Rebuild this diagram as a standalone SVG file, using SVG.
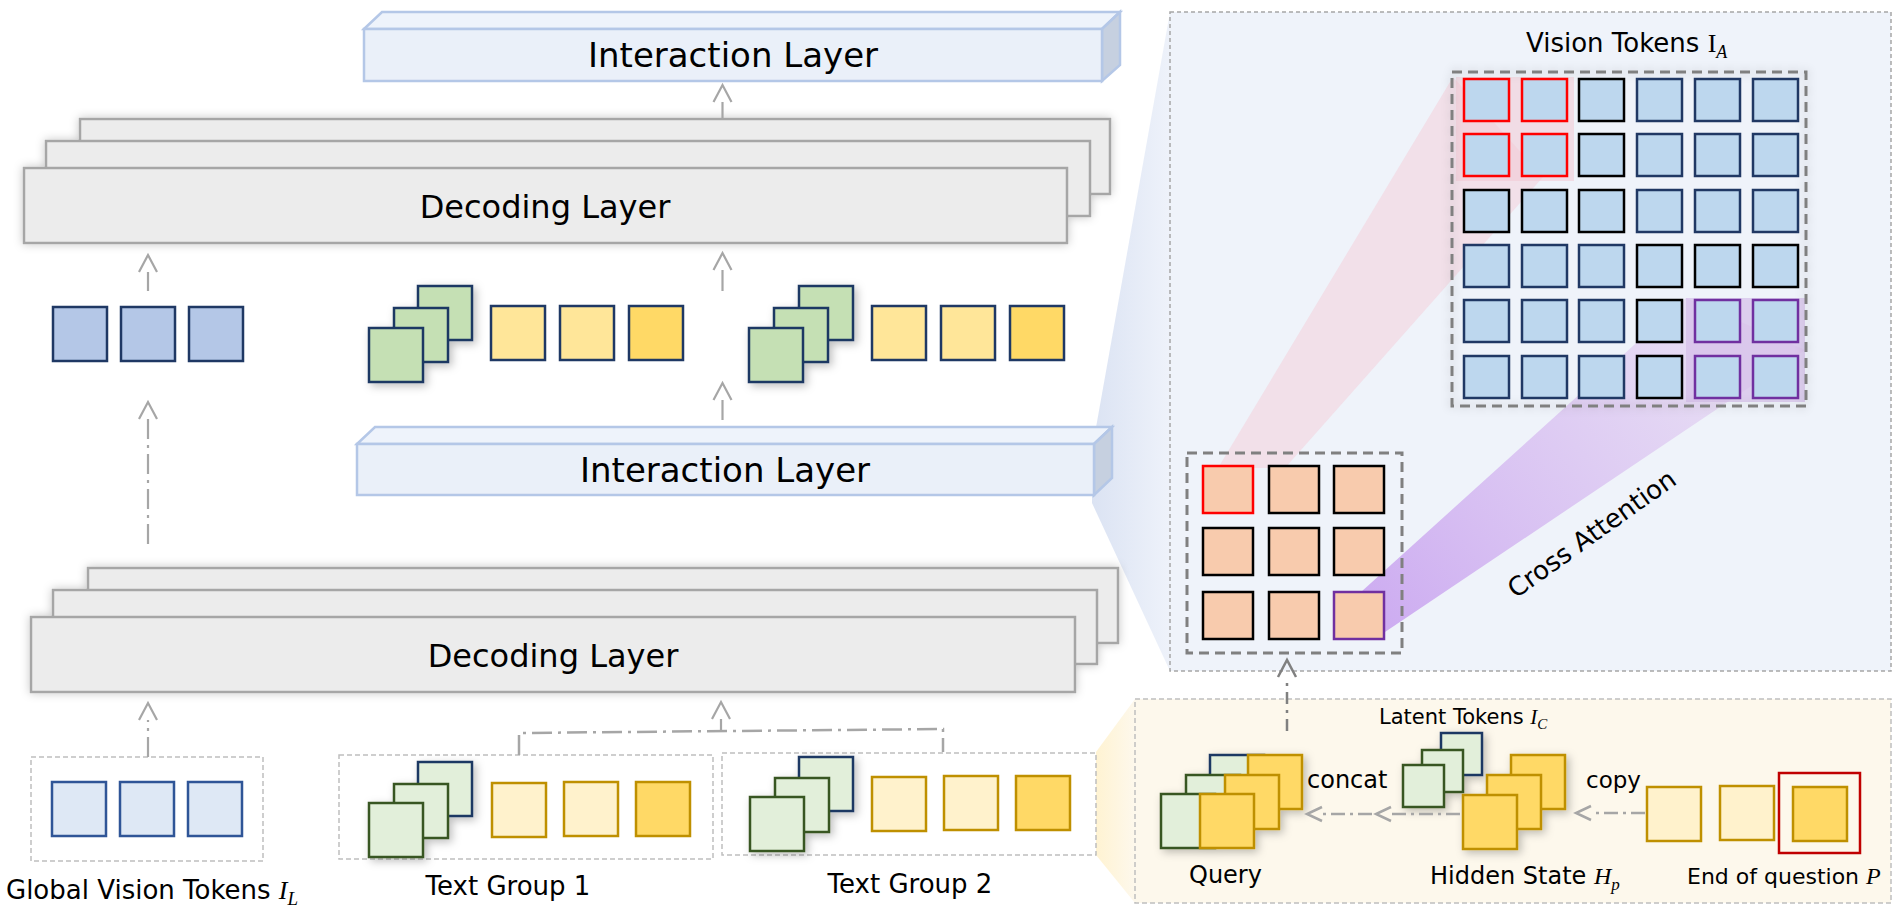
<svg xmlns="http://www.w3.org/2000/svg" width="1903" height="913" viewBox="0 0 1903 913">
<defs>
<style>
text{font-family:"DejaVu Sans","Noto Sans",sans-serif;fill:#000}
.m{font-family:"Liberation Serif",serif;font-style:italic}
.dec{fill:#ececec;stroke:#a6a6a6;stroke-width:2.5}
.ifront{fill:#eaf0f9;stroke:#b4c7e7;stroke-width:2.5}
.itop{fill:#eef3fb;stroke:#b4c7e7;stroke-width:2.5}
.iside{fill:#c6d0e0;stroke:#b4c7e7;stroke-width:2.5}
.tb{fill:#b4c7e7;stroke:#1f3864;stroke-width:2.5}
.tg{fill:#c5e0b4;stroke:#1f3864;stroke-width:2.5}
.ty{fill:#ffe699;stroke:#1f3864;stroke-width:2.5}
.tyd{fill:#ffd966;stroke:#1f3864;stroke-width:2.5}
.bb{fill:#dee8f5;stroke:#2f5597;stroke-width:2.5}
.bg{fill:#e2efda;stroke:#385723;stroke-width:2.5}
.bgn{fill:#e2efda;stroke:#1f3864;stroke-width:2.5}
.by{fill:#fff2cc;stroke:#bf9000;stroke-width:2.5}
.byd{fill:#ffd966;stroke:#bf9000;stroke-width:2.5}
.vt{fill:#bdd7ee;stroke-width:2.5}
.sn{stroke:#203864}.sk{stroke:#000}.sr{stroke:#ff0000}.sp{stroke:#7030a0}
.q{fill:#f8cbad;stroke:#000;stroke-width:2.5}
.dbox{fill:#fff;stroke:#bfbfbf;stroke-width:1.5;stroke-dasharray:5 3}
.gbox{fill:none;stroke:#808080;stroke-width:3;stroke-dasharray:10 6}
.arr{fill:none;stroke:#a6a6a6;stroke-width:2.2;marker-end:url(#ah)}
.dd{stroke-dasharray:20 6 3 6}
.arr2{fill:none;stroke:#808080;stroke-width:2.5;stroke-dasharray:12 6 3 6;marker-end:url(#ah2)}
.arr3{fill:none;stroke:#a6a6a6;stroke-width:2.5;stroke-dasharray:14 5 3 5;marker-end:url(#ah3)}
</style>
<filter id="sh" x="-20%" y="-20%" width="140%" height="140%">
<feDropShadow dx="0" dy="0" stdDeviation="5" flood-color="#000" flood-opacity="0.22"/>
</filter>
<filter id="shs" x="-30%" y="-30%" width="160%" height="160%">
<feDropShadow dx="3" dy="3" stdDeviation="4" flood-color="#000" flood-opacity="0.25"/>
</filter>
<marker id="ah" markerUnits="userSpaceOnUse" viewBox="-2 -11 22 22" markerWidth="22" markerHeight="22" refX="0" refY="0" orient="auto" overflow="visible">
<path d="M0,-9 L17,0 L0,9" fill="none" stroke="#a6a6a6" stroke-width="2.2"/>
</marker>
<marker id="ah2" markerUnits="userSpaceOnUse" viewBox="-2 -11 22 22" markerWidth="22" markerHeight="22" refX="0" refY="0" orient="auto" overflow="visible">
<path d="M0,-9 L17,0 L0,9" fill="none" stroke="#808080" stroke-width="2.5"/>
</marker>
<marker id="ah3" markerUnits="userSpaceOnUse" viewBox="-2 -11 22 22" markerWidth="22" markerHeight="22" refX="0" refY="0" orient="auto" overflow="visible">
<path d="M0,-7 L15,0 L0,7" fill="none" stroke="#a6a6a6" stroke-width="2.5"/>
</marker>
<linearGradient id="gBlue" x1="0" y1="0" x2="1" y2="0">
<stop offset="0" stop-color="#dbe3f3"/>
<stop offset="1" stop-color="#eef2fa"/>
</linearGradient>
<linearGradient id="gYel" x1="0" y1="0" x2="1" y2="0">
<stop offset="0" stop-color="#fff3d2"/>
<stop offset="1" stop-color="#fdf8ec"/>
</linearGradient>
<linearGradient id="gPur" x1="1385" y1="632" x2="1745" y2="330" gradientUnits="userSpaceOnUse">
<stop offset="0" stop-color="#c9a4f0" stop-opacity="0.9"/>
<stop offset="1" stop-color="#e6d8f2" stop-opacity="0.7"/>
</linearGradient>
</defs>

<rect width="1903" height="913" fill="#fff"/>

<g id="wedges">
<polygon points="1092,450 1170,12 1170,671 1092,503" fill="url(#gBlue)"/>
<polygon points="1096,752 1135,699 1135,903 1096,855" fill="url(#gYel)"/>
</g>

<g id="attention-panel">
<rect x="1170" y="12" width="721" height="659" fill="#eff3fa" stroke="#a6a6a6" stroke-width="1.5" stroke-dasharray="4 3"/>
<polygon points="1218,468 1453,77 1543,177 1285,468" fill="#f4d0da" opacity="0.55"/>
<polygon points="1361,592 1686,298 1805,350 1385,632" fill="url(#gPur)"/>
<rect x="1456" y="77" width="118" height="104" fill="#f2c8d4" opacity="0.55"/>
<rect x="1686" y="298" width="119" height="104" fill="#d4bde8" opacity="0.7"/>
<text x="1526" y="52" font-size="26">Vision Tokens <tspan font-family="Liberation Serif" font-style="normal">I</tspan><tspan class="m" font-size="18" dy="6">A</tspan></text>
<text x="1597" y="541" font-size="26" text-anchor="middle" transform="rotate(-35.5 1597 541)">Cross Attention</text>
</g>

<g id="vision-tokens">
<rect class="gbox" x="1452" y="72" width="354" height="334" filter="url(#sh)"/>
<rect class="vt sr" x="1464" y="79" width="45" height="42"/>
<rect class="vt sr" x="1522" y="79" width="45" height="42"/>
<rect class="vt sk" x="1579" y="79" width="45" height="42"/>
<rect class="vt sn" x="1637" y="79" width="45" height="42"/>
<rect class="vt sn" x="1695" y="79" width="45" height="42"/>
<rect class="vt sn" x="1753" y="79" width="45" height="42"/>
<rect class="vt sr" x="1464" y="134" width="45" height="42"/>
<rect class="vt sr" x="1522" y="134" width="45" height="42"/>
<rect class="vt sk" x="1579" y="134" width="45" height="42"/>
<rect class="vt sn" x="1637" y="134" width="45" height="42"/>
<rect class="vt sn" x="1695" y="134" width="45" height="42"/>
<rect class="vt sn" x="1753" y="134" width="45" height="42"/>
<rect class="vt sk" x="1464" y="190" width="45" height="42"/>
<rect class="vt sk" x="1522" y="190" width="45" height="42"/>
<rect class="vt sk" x="1579" y="190" width="45" height="42"/>
<rect class="vt sn" x="1637" y="190" width="45" height="42"/>
<rect class="vt sn" x="1695" y="190" width="45" height="42"/>
<rect class="vt sn" x="1753" y="190" width="45" height="42"/>
<rect class="vt sn" x="1464" y="245" width="45" height="42"/>
<rect class="vt sn" x="1522" y="245" width="45" height="42"/>
<rect class="vt sn" x="1579" y="245" width="45" height="42"/>
<rect class="vt sk" x="1637" y="245" width="45" height="42"/>
<rect class="vt sk" x="1695" y="245" width="45" height="42"/>
<rect class="vt sk" x="1753" y="245" width="45" height="42"/>
<rect class="vt sn" x="1464" y="300" width="45" height="42"/>
<rect class="vt sn" x="1522" y="300" width="45" height="42"/>
<rect class="vt sn" x="1579" y="300" width="45" height="42"/>
<rect class="vt sk" x="1637" y="300" width="45" height="42"/>
<rect class="vt sp" x="1695" y="300" width="45" height="42"/>
<rect class="vt sp" x="1753" y="300" width="45" height="42"/>
<rect class="vt sn" x="1464" y="356" width="45" height="42"/>
<rect class="vt sn" x="1522" y="356" width="45" height="42"/>
<rect class="vt sn" x="1579" y="356" width="45" height="42"/>
<rect class="vt sk" x="1637" y="356" width="45" height="42"/>
<rect class="vt sp" x="1695" y="356" width="45" height="42"/>
<rect class="vt sp" x="1753" y="356" width="45" height="42"/>
</g>

<g id="query-grid">
<rect class="gbox" x="1187" y="453" width="215" height="200"/>
<rect class="q" x="1203" y="466" width="50" height="47" style="stroke:#ff0000"/>
<rect class="q" x="1269" y="466" width="50" height="47"/>
<rect class="q" x="1334" y="466" width="50" height="47"/>
<rect class="q" x="1203" y="528" width="50" height="47"/>
<rect class="q" x="1269" y="528" width="50" height="47"/>
<rect class="q" x="1334" y="528" width="50" height="47"/>
<rect class="q" x="1203" y="592" width="50" height="47"/>
<rect class="q" x="1269" y="592" width="50" height="47"/>
<rect class="q" x="1334" y="592" width="50" height="47" style="stroke:#7030a0"/>
</g>

<g id="query-panel">
<rect x="1135" y="699" width="756" height="204" fill="#fdf8ec" stroke="#bfbfbf" stroke-width="1.5" stroke-dasharray="5 3"/>
<text x="1379" y="724" font-size="21">Latent Tokens <tspan class="m">I</tspan><tspan class="m" font-size="15" dy="5">C</tspan></text>
<text x="1307" y="788" font-size="24">concat</text>
<text x="1586" y="788" font-size="23">copy</text>
<text x="1189" y="883" font-size="24">Query</text>
<text x="1430" y="884" font-size="24">Hidden State <tspan class="m">H</tspan><tspan class="m" font-size="17" dy="6">p</tspan></text>
<text x="1687" y="884" font-size="22">End of question <tspan class="m" font-size="24">P</tspan></text>
</g>

<g id="query-stack" filter="url(#shs)">
<rect class="bgn" x="1210" y="755" width="54" height="54"/>
<rect class="byd" x="1248" y="755" width="54" height="54"/>
<rect class="bg" x="1186" y="775" width="54" height="54"/>
<rect class="byd" x="1225" y="775" width="54" height="54"/>
<rect class="bg" x="1161" y="794" width="54" height="54"/>
<rect class="byd" x="1200" y="794" width="54" height="54"/>
</g>

<g id="latent-tokens" filter="url(#shs)">
<rect class="bgn" x="1441" y="733" width="41" height="42"/>
<rect class="bg" x="1422" y="750" width="41" height="42"/>
<rect class="bg" x="1403" y="765" width="41" height="42"/>
</g>

<g id="hidden-state" filter="url(#shs)">
<rect class="byd" x="1511" y="755" width="54" height="54"/>
<rect class="byd" x="1487" y="775" width="54" height="54"/>
<rect class="byd" x="1463" y="795" width="54" height="54"/>
</g>

<g id="end-of-question">
<rect class="by" x="1647" y="787" width="54" height="54"/>
<rect class="by" x="1720" y="786" width="54" height="54"/>
<rect class="byd" x="1793" y="787" width="54" height="54"/>
<rect x="1779" y="773" width="81" height="80" fill="none" stroke="#c00000" stroke-width="2.5"/>
</g>

<g id="interaction-top">
<polygon class="itop" points="364,29 382,12 1120,12 1102,29"/>
<polygon class="iside" points="1102,29 1120,12 1120,65 1102,81"/>
<rect class="ifront" x="364" y="29" width="738" height="52"/>
<text x="733" y="67" font-size="34" text-anchor="middle">Interaction Layer</text>
</g>

<g id="decoding-top">
<g filter="url(#sh)">
<rect class="dec" x="80" y="119" width="1030" height="75"/>
<rect class="dec" x="46" y="141" width="1044" height="75"/>
<rect class="dec" x="24" y="168" width="1043" height="75"/>
</g>
<text x="545" y="218" font-size="32" text-anchor="middle">Decoding Layer</text>
</g>

<g id="top-vision-tokens">
<rect class="tb" x="53" y="307" width="54" height="54"/>
<rect class="tb" x="121" y="307" width="54" height="54"/>
<rect class="tb" x="189" y="307" width="54" height="54"/>
</g>

<g id="top-text-group-1">
<g filter="url(#shs)">
<rect class="tg" x="418" y="286" width="54" height="54"/>
<rect class="tg" x="394" y="308" width="54" height="54"/>
<rect class="tg" x="369" y="328" width="54" height="54"/>
</g>
<rect class="ty" x="491" y="306" width="54" height="54"/>
<rect class="ty" x="560" y="306" width="54" height="54"/>
<rect class="tyd" x="629" y="306" width="54" height="54"/>
</g>

<g id="top-text-group-2">
<g filter="url(#shs)">
<rect class="tg" x="799" y="286" width="54" height="54"/>
<rect class="tg" x="774" y="308" width="54" height="54"/>
<rect class="tg" x="749" y="328" width="54" height="54"/>
</g>
<rect class="ty" x="872" y="306" width="54" height="54"/>
<rect class="ty" x="941" y="306" width="54" height="54"/>
<rect class="tyd" x="1010" y="306" width="54" height="54"/>
</g>

<g id="interaction-mid">
<polygon class="itop" points="357,444 375,427 1112,427 1094,444"/>
<polygon class="iside" points="1094,444 1112,427 1112,478 1094,495"/>
<rect class="ifront" x="357" y="444" width="737" height="51"/>
<text x="725" y="482" font-size="34" text-anchor="middle">Interaction Layer</text>
</g>

<g id="decoding-bottom">
<g filter="url(#sh)">
<rect class="dec" x="88" y="568" width="1030" height="75"/>
<rect class="dec" x="53" y="590" width="1044" height="74"/>
<rect class="dec" x="31" y="617" width="1044" height="75"/>
</g>
<text x="553" y="667" font-size="32" text-anchor="middle">Decoding Layer</text>
</g>

<g id="global-vision-tokens">
<rect class="dbox" x="31" y="757" width="232" height="104"/>
<rect class="bb" x="52" y="782" width="54" height="54"/>
<rect class="bb" x="120" y="782" width="54" height="54"/>
<rect class="bb" x="188" y="782" width="54" height="54"/>
<text x="6" y="899" font-size="26">Global Vision Tokens <tspan class="m">I</tspan><tspan class="m" font-size="19" dy="6">L</tspan></text>
</g>

<g id="text-group-1">
<rect class="dbox" x="339" y="755" width="374" height="104"/>
<g filter="url(#shs)">
<rect class="bgn" x="418" y="762" width="54" height="54"/>
<rect class="bg" x="394" y="784" width="54" height="54"/>
<rect class="bg" x="369" y="803" width="54" height="54"/>
</g>
<rect class="by" x="492" y="783" width="54" height="54"/>
<rect class="by" x="564" y="782" width="54" height="54"/>
<rect class="byd" x="636" y="782" width="54" height="54"/>
<text x="508" y="895" font-size="26" text-anchor="middle">Text Group 1</text>
</g>

<g id="text-group-2">
<rect class="dbox" x="722" y="753" width="374" height="102"/>
<g filter="url(#shs)">
<rect class="bgn" x="799" y="757" width="54" height="54"/>
<rect class="bg" x="775" y="778" width="54" height="54"/>
<rect class="bg" x="750" y="797" width="54" height="54"/>
</g>
<rect class="by" x="872" y="777" width="54" height="54"/>
<rect class="by" x="944" y="776" width="54" height="54"/>
<rect class="byd" x="1016" y="776" width="54" height="54"/>
<text x="910" y="893" font-size="26" text-anchor="middle">Text Group 2</text>
</g>

<g id="connectors">
<path class="arr" d="M722.5,120 V102"/>
<path class="arr" d="M148,291 V272"/>
<path class="arr" d="M722.5,291 V270"/>
<path class="arr" d="M722.5,420 V400"/>
<path class="arr dd" d="M148,544 V419"/>
<path class="arr dd" d="M148,757 V720"/>
<path d="M519,755 V733 L943,729 V752" fill="none" stroke="#a6a6a6" stroke-width="2.5" stroke-dasharray="20 6 3 6"/>
<path class="arr" d="M721,731 V719"/>
<path class="arr2" d="M1287,731 V677"/>
<path class="arr3" d="M1645,813 H1591"/>
<path class="arr3" d="M1460,814 H1391"/>
<path class="arr3" d="M1372,814 H1322"/>
</g>
</svg>
